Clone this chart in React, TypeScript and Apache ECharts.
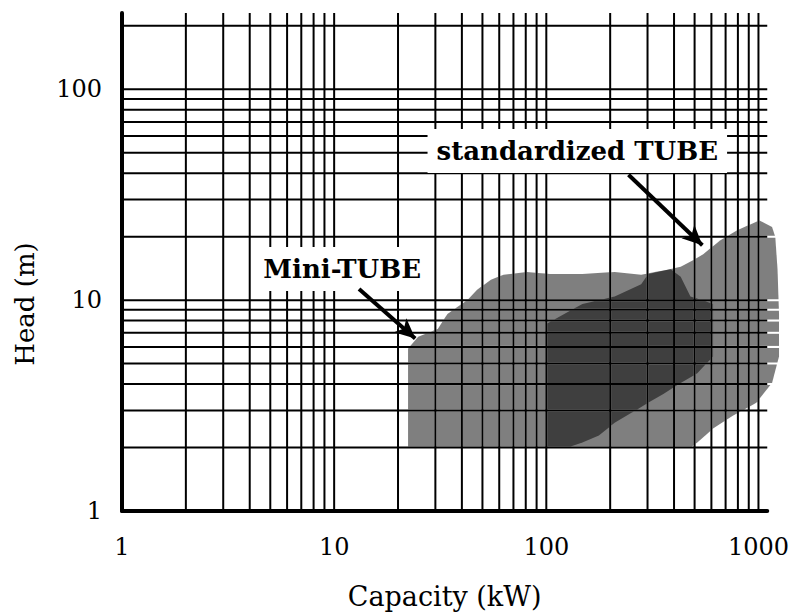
import React, { useEffect, useRef } from "react";
import * as echarts from "echarts";

// Axis ranges (kW, m)
const xMin = 1;
const xMax = 1100;
const yMin = 1;
const yMax = 230;

// Tick labels
const xTickLabels = ["1", "10", "100", "1000"];
const yTickLabels = ["1", "10", "100"];

// Log grid lines
const xGridValues = [2, 3, 4, 5, 6, 7, 8, 9, 10, 20, 30, 40, 50, 60, 70, 80, 90, 100, 200, 300, 400, 500, 600, 700, 800, 900, 1000];
const yGridValues = [2, 3, 4, 5, 6, 7, 8, 9, 10, 20, 30, 40, 50, 60, 70, 80, 90, 100, 200];

// Application ranges (capacity kW, head m)
const miniTube: number[][] = [
  [22.3, 2.0], [22.3, 5.9], [24.9, 6.7], [30.8, 7.3], [34.2, 8.6], [42.4, 10.0],
  [47.2, 11.2], [54.8, 12.5], [62.9, 13.2], [80.4, 13.6], [104, 13.3], [148, 13.3],
  [210, 13.6], [280, 13.2], [340, 13.7], [386, 14.0], [430, 12.9], [478, 10.4],
  [544, 10.0], [611, 9.6], [611, 5.4], [515, 4.5], [430, 4.05], [358, 3.6],
  [302, 3.26], [252, 2.92], [210, 2.62], [177, 2.28], [148, 2.11], [126, 2.0],
];
const standardizedTube: number[][] = [
  [100, 2.0], [100, 7.7], [148, 9.6], [210, 10.4], [280, 11.9], [302, 13.3],
  [386, 14.05], [430, 14.4], [494, 15.5], [549, 16.5], [659, 19.2], [790, 21.4],
  [1010, 23.9], [1159, 22.2], [1200, 20], [1230, 14], [1250, 8.6], [1250, 5.4],
  [1159, 4.05], [977, 3.26], [757, 2.83], [611, 2.46], [515, 2.11], [478, 2.0],
];
const regions = [miniTube, standardizedTube];

// Annotations
const annotationNames = ["Mini-TUBE", "standardized TUBE"];
const annotationPos: number[][] = [[10.9, 14.05], [140, 51]];
const arrowFrom: number[][] = [[13.1, 11.3], [244, 39.3]];
const arrowTo: number[][] = [[24.1, 6.58], [544, 18.2]];

const FONT = "DejaVu Serif";

// Sutherland–Hodgman clipping of a pixel polygon to a rectangle
function clipToRect(pts: number[][], x0: number, x1: number, y0: number, y1: number): number[][] {
  const edges = [
    { ins: (p: number[]) => p[0] >= x0, cut: (a: number[], b: number[]) => [x0, a[1] + ((x0 - a[0]) / (b[0] - a[0])) * (b[1] - a[1])] },
    { ins: (p: number[]) => p[0] <= x1, cut: (a: number[], b: number[]) => [x1, a[1] + ((x1 - a[0]) / (b[0] - a[0])) * (b[1] - a[1])] },
    { ins: (p: number[]) => p[1] >= y0, cut: (a: number[], b: number[]) => [a[0] + ((y0 - a[1]) / (b[1] - a[1])) * (b[0] - a[0]), y0] },
    { ins: (p: number[]) => p[1] <= y1, cut: (a: number[], b: number[]) => [a[0] + ((y1 - a[1]) / (b[1] - a[1])) * (b[0] - a[0]), y1] },
  ];
  let out = pts;
  for (const e of edges) {
    const input = out;
    out = [];
    if (!input.length) break;
    for (let i = 0; i < input.length; i++) {
      const cur = input[i];
      const prev = input[(i + input.length - 1) % input.length];
      const ci = e.ins(cur);
      const pi = e.ins(prev);
      if (ci) {
        if (!pi) out.push(e.cut(prev, cur));
        out.push(cur);
      } else if (pi) {
        out.push(e.cut(prev, cur));
      }
    }
  }
  return out;
}

export default function App() {
  const ref = useRef<HTMLDivElement>(null);
  useEffect(() => {
    if (!ref.current) return;
    const chart = echarts.init(ref.current, undefined, { renderer: "svg" });
    const isDecade = (v: number) => Math.abs(Math.log10(v) - Math.round(Math.log10(v))) < 1e-6;
    chart.setOption({
      animation: false,
      backgroundColor: "#fff",
      grid: { left: 122, top: 13, width: 656, height: 503, containLabel: false },
      xAxis: {
        type: "log",
        logBase: 10,
        min: xMin,
        max: xMax,
        z: 3,
        name: "Capacity (kW)",
        nameLocation: "middle",
        nameGap: 72,
        nameTextStyle: { fontFamily: FONT, fontSize: 27, color: "#000" },
        axisLine: { show: true, lineStyle: { color: "#000", width: 4 } },
        axisTick: { show: false },
        splitLine: { show: false },
        axisLabel: {
          margin: 24,
          showMaxLabel: false,
          fontFamily: FONT,
          fontSize: 24,
          color: "#000",
          formatter: (v: number) => (isDecade(v) ? xTickLabels[Math.round(Math.log10(v))] ?? "" : ""),
        },
      },
      yAxis: {
        type: "log",
        logBase: 10,
        min: yMin,
        max: yMax,
        z: 3,
        name: "Head (m)",
        nameLocation: "middle",
        nameGap: 84,
        nameTextStyle: { fontFamily: FONT, fontSize: 26, color: "#000", padding: [0, 84, 0, 0] },
        axisLine: { show: true, lineStyle: { color: "#000", width: 4 } },
        axisTick: { show: false },
        splitLine: { show: false },
        axisLabel: {
          margin: 20,
          showMaxLabel: false,
          fontFamily: FONT,
          fontSize: 24,
          color: "#000",
          formatter: (v: number) => (isDecade(v) ? yTickLabels[Math.round(Math.log10(v))] ?? "" : ""),
        },
      },
      series: [
        {
          type: "custom",
          name: "ranges",
          clip: false,
          silent: true,
          z: 1,
          data: regions.map((r) => r[0]),
          renderItem: (params: any, api: any) => {
            const pts = regions[params.dataIndex].map((p) => api.coord(p));
            const xs = [-10000, ...xGridValues.map((v) => api.coord([v, yMin])[0]).sort((a, b) => a - b), 10000];
            const ys = [-10000, ...yGridValues.map((v) => api.coord([xMin, v])[1]).sort((a, b) => a - b), 10000];
            const children: any[] = [];
            for (let i = 0; i < xs.length - 1; i++) {
              const cx0 = xs[i] + (i > 0 ? 1 : 0);
              const cx1 = xs[i + 1] - (i + 1 < xs.length - 1 ? 1 : 0);
              for (let j = 0; j < ys.length - 1; j++) {
                const cy0 = ys[j] + (j > 0 ? 1 : 0);
                const cy1 = ys[j + 1] - (j + 1 < ys.length - 1 ? 1 : 0);
                const piece = clipToRect(pts, cx0, cx1, cy0, cy1);
                if (piece.length >= 3) {
                  children.push({
                    type: "polygon",
                    shape: { points: piece },
                    style: { fill: "rgba(0,0,0,0.5)" },
                  });
                }
              }
            }
            return { type: "group", children };
          },
        },
        {
          type: "custom",
          name: "grid lines",
          clip: false,
          silent: true,
          z: 4,
          data: [[xMin, yMin]],
          renderItem: (params: any, api: any) => {
            const left = api.coord([xMin, yMin])[0];
            const bottom = api.coord([xMin, yMin])[1];
            const right = api.coord([xMax, yMin])[0];
            const topY = api.coord([xMin, yMax])[1];
            const children: any[] = [];
            xGridValues.forEach((v) => {
              const x = api.coord([v, yMin])[0];
              children.push({
                type: "rect",
                shape: { x: x - 1, y: topY, width: 2, height: bottom - topY },
                style: { fill: "#000" },
              });
            });
            yGridValues.forEach((v) => {
              const y = api.coord([xMin, v])[1];
              children.push({
                type: "rect",
                shape: { x: left, y: y - 1, width: right - left, height: 2 },
                style: { fill: "#000" },
              });
            });
            return { type: "group", children };
          },
        },
        {
          type: "custom",
          name: "labels",
          z: 6,
          silent: true,
          clip: false,
          data: annotationPos,
          markLine: {
            silent: true,
            z: 7,
            symbol: ["none", "arrow"],
            symbolSize: [14, 20],
            label: { show: false },
            lineStyle: { color: "#000", width: 4, type: "solid" },
            data: arrowFrom.map((f, i) => [{ coord: f }, { coord: arrowTo[i] }]),
          },
          renderItem: (params: any, api: any) => {
            const p = api.coord([api.value(0), api.value(1)]);
            return {
              type: "text",
              x: p[0],
              y: p[1],
              style: {
                text: annotationNames[params.dataIndex],
                fill: "#000",
                font: `bold 26px "${FONT}"`,
                align: "center",
                verticalAlign: "middle",
                backgroundColor: "#fff",
                padding: [9, 9],
              },
            };
          },
        },
      ],
    });
    return () => chart.dispose();
  }, []);
  return (
    <div
      ref={ref}
      style={{ position: "fixed", left: 0, top: 0, width: 792, height: 615, background: "#fff" }}
    />
  );
}
